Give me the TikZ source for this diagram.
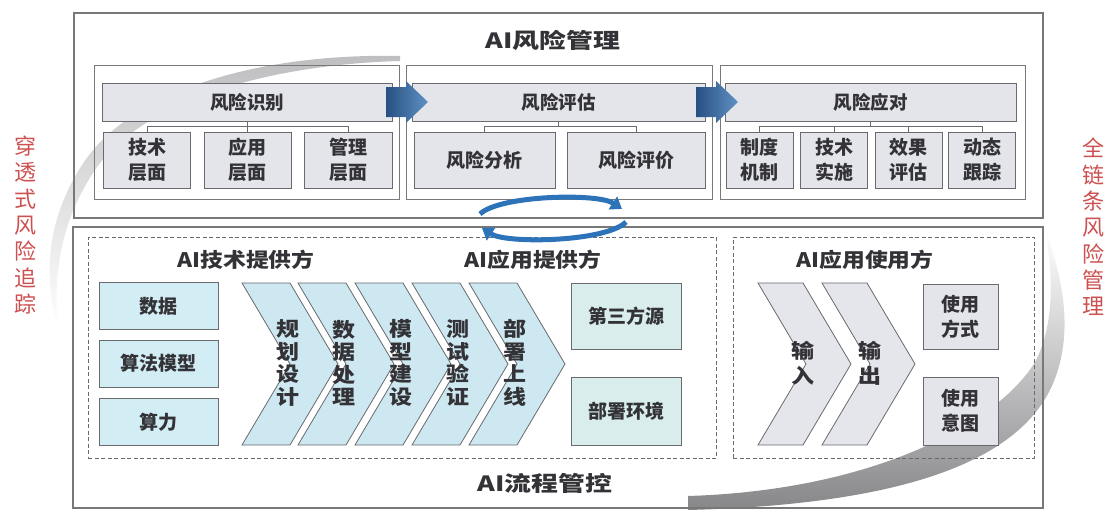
\documentclass[tikz,border=0pt]{standalone}
\usepackage{fontspec}
\setmainfont{Noto Sans CJK SC}
\newfontfamily\fA{Noto Sans CJK SC}[FakeStretch=1.28]
\newfontfamily\fB{Noto Sans CJK SC}[FakeStretch=1.14]
\newfontfamily\fC{Noto Sans CJK SC}[FakeStretch=1.15]
\usetikzlibrary{arrows.meta}
\definecolor{frame}{RGB}{120,120,120}
\definecolor{edge}{RGB}{105,105,110}
\definecolor{boxgray}{RGB}{228,229,235}
\definecolor{cyanfill}{RGB}{210,237,243}
\definecolor{chevfill}{RGB}{205,232,240}
\definecolor{chevgray}{RGB}{228,230,236}
\definecolor{mintfill}{RGB}{216,237,236}
\definecolor{ink}{RGB}{50,50,55}
\definecolor{sidered}{RGB}{205,80,80}
\definecolor{arrdark}{RGB}{40,80,130}
\definecolor{arrlight}{RGB}{95,145,195}
\definecolor{cycblue}{RGB}{45,115,185}
\definecolor{swooshd}{RGB}{135,135,138}
\definecolor{swooshl}{RGB}{190,190,192}
\tikzset{
 base/.style={inner sep=0pt, outer sep=0pt, line width=0.9pt, draw=edge},
 bigbox/.style={base, draw=frame, line width=1.3pt},
 secbox/.style={base, draw=frame, line width=1pt},
 dashbox/.style={base, draw=edge, dash pattern=on 4pt off 2.5pt, line width=0.9pt},
 hdr/.style={base, fill=boxgray, text=ink, font=\bfseries\fontsize{18.5}{22}\selectfont},
 leaf/.style={base, fill=boxgray, text=ink, align=center, font=\bfseries\fontsize{19}{25}\selectfont},
 cyanbox/.style={base, fill=cyanfill, text=ink, font=\bfseries\fontsize{19}{24}\selectfont},
 mintbox/.style={base, fill=mintfill, text=ink, font=\bfseries\fontsize{19}{24}\selectfont},
 maintitle/.style={inner sep=0pt, text=ink, font=\fA\bfseries\fontsize{21}{24}\selectfont},
 sectitle/.style={inner sep=0pt, text=ink, font=\fB\bfseries\fontsize{20}{24}\selectfont},
 vtext/.style={inner sep=0pt, text=ink, align=center, font=\fC\bfseries\fontsize{20}{22.5}\selectfont},
 vtextw/.style={inner sep=0pt, text=ink, align=center, font=\fC\bfseries\fontsize{20}{25}\selectfont},
 sidelabel/.style={inner sep=0pt, text=sidered, align=center, font=\fontsize{22}{26.3}\selectfont},
 conn/.style={draw=edge, line width=0.8pt},
 chev/.style={draw=edge, line width=0.8pt, fill=chevfill},
 chevg/.style={draw=edge, line width=0.8pt, fill=chevgray},
 cyc/.style={draw=cycblue, line width=5pt, -{Triangle[length=11pt,width=15pt]}},
}
\begin{document}
\begin{tikzpicture}[x=1pt,y=-1pt]
\useasboundingbox (0,0) rectangle (1109,512);
% grey swoosh
\shade[top color=white, middle color=swooshl, bottom color=swooshd]
  (688,510) .. controls (880,505) and (1010,470) .. (1050,390)
  .. controls (1072,345) and (1068,290) .. (1045,230)
  .. controls (1055,285) and (1052,330) .. (1035,362)
  .. controls (1000,420) and (880,490) .. (688,496) -- cycle;
\shade[top color=swooshl, middle color=swooshd, bottom color=white]
  (400,56) .. controls (260,53) and (130,90) .. (82,165)
  .. controls (48,218) and (42,272) .. (58,330)
  .. controls (53,275) and (60,222) .. (95,170)
  .. controls (140,104) and (260,65) .. (400,61) -- cycle;
% top block
\node[bigbox, minimum width=969pt, minimum height=205pt] (topbox) at (558.5,115.5) {};
\node[maintitle] (toptitle) at (553,40) {AI风险管理};
\node[secbox, minimum width=305pt, minimum height=134pt] (sec1) at (246.5,132) {};
\node[secbox, minimum width=306pt, minimum height=134pt] (sec2) at (559,132) {};
\node[secbox, minimum width=305pt, minimum height=134pt] (sec3) at (872.5,132) {};
\node[hdr, minimum width=290pt, minimum height=38pt] (h1) at (247,102) {风险识别};
\node[hdr, minimum width=293pt, minimum height=38pt] (h2) at (558.5,102) {风险评估};
\node[hdr, minimum width=291pt, minimum height=38pt] (h3) at (870.5,102) {风险应对};
\node[leaf, minimum width=87pt, minimum height=56pt] (t1) at (147,160) {技术\\层面};
\node[leaf, minimum width=87pt, minimum height=56pt] (t2) at (247.5,160) {应用\\层面};
\node[leaf, minimum width=88pt, minimum height=56pt] (t3) at (348.5,160) {管理\\层面};
\node[leaf, minimum width=141pt, minimum height=56pt] (e1) at (484.5,160) {风险分析};
\node[leaf, minimum width=138pt, minimum height=56pt] (e2) at (636,160) {风险评价};
\node[leaf, minimum width=67pt, minimum height=56pt] (r1) at (759.5,160) {制度\\机制};
\node[leaf, minimum width=67pt, minimum height=56pt] (r2) at (834,160) {技术\\实施};
\node[leaf, minimum width=67pt, minimum height=56pt] (r3) at (908.5,160) {效果\\评估};
\node[leaf, minimum width=67pt, minimum height=56pt] (r4) at (982,160) {动态\\跟踪};
\draw[conn] (h1.south) -- ++(0,5.5) coordinate (j1);
\draw[conn] (t1.north) |- (j1) -| (t3.north);
\draw[conn] (t2.north) -- (t2.north |- j1);
\draw[conn] (h2.south) -- ++(0,5.5) coordinate (j2);
\draw[conn] (e1.north) |- (j2) -| (e2.north);
\draw[conn] (h3.south) -- ++(0,5.5) coordinate (j3);
\draw[conn] (r1.north) |- (j3) -| (r4.north);
\draw[conn] (r2.north) -- (r2.north |- j3);
\draw[conn] (r3.north) -- (r3.north |- j3);
\shade[left color=arrdark, right color=arrlight] (386,87) -- (406,87) -- (406,81) -- (428,102) -- (406,123) -- (406,117) -- (386,117) -- cycle;
\shade[left color=arrdark, right color=arrlight] (696,87) -- (716,87) -- (716,81) -- (738,102) -- (716,123) -- (716,117) -- (696,117) -- cycle;
% bottom block
\node[bigbox, minimum width=970pt, minimum height=281pt] (botbox) at (558,367.5) {};
\node[dashbox, minimum width=628pt, minimum height=221pt] (dl) at (402,347.5) {};
\node[dashbox, minimum width=301pt, minimum height=221pt] (dr) at (883.5,347.5) {};
\node[sectitle] (tp) at (246,260) {AI技术提供方};
\node[sectitle] (ap) at (533,260) {AI应用提供方};
\node[sectitle] (au) at (865,260) {AI应用使用方};
\node[maintitle] (flow) at (545,483) {AI流程管控};
\node[cyanbox, minimum width=119pt, minimum height=47pt] (d1) at (158.5,306) {数据};
\node[cyanbox, minimum width=119pt, minimum height=47pt] (d2) at (158.5,363.5) {算法模型};
\node[cyanbox, minimum width=119pt, minimum height=47pt] (d3) at (158.5,422) {算力};
\draw[chev] (242,283) -- ++(48,0) -- ++(48,81) -- ++(-48,81) -- ++(-48,0) -- ++(48,-81) -- cycle;
\node[vtext] (c1) at (288,363) {规\\划\\设\\计};
\draw[chev] (298,283) -- ++(48,0) -- ++(48,81) -- ++(-48,81) -- ++(-48,0) -- ++(48,-81) -- cycle;
\node[vtext] (c2) at (344,363) {数\\据\\处\\理};
\draw[chev] (355,283) -- ++(48,0) -- ++(48,81) -- ++(-48,81) -- ++(-48,0) -- ++(48,-81) -- cycle;
\node[vtext] (c3) at (401,363) {模\\型\\建\\设};
\draw[chev] (412,283) -- ++(48,0) -- ++(48,81) -- ++(-48,81) -- ++(-48,0) -- ++(48,-81) -- cycle;
\node[vtext] (c4) at (458,363) {测\\试\\验\\证};
\draw[chev] (469,283) -- ++(48,0) -- ++(48,81) -- ++(-48,81) -- ++(-48,0) -- ++(48,-81) -- cycle;
\node[vtext] (c5) at (515,363) {部\\署\\上\\线};
\node[mintbox, minimum width=110pt, minimum height=66pt] (s1) at (626,316) {第三方源};
\node[mintbox, minimum width=110pt, minimum height=68pt] (s2) at (626,411.5) {部署环境};
\draw[chevg] (758,283) -- ++(45,0) -- ++(48,81) -- ++(-48,81) -- ++(-45,0) -- ++(48,-81) -- cycle;
\node[vtextw] (i1) at (803,363) {输\\入};
\draw[chevg] (822,283) -- ++(45,0) -- ++(48,81) -- ++(-48,81) -- ++(-45,0) -- ++(48,-81) -- cycle;
\node[vtextw] (i2) at (870,363) {输\\出};
\node[leaf, minimum width=75pt, minimum height=65pt] (u1) at (960.5,316.5) {使用\\方式};
\node[leaf, minimum width=75pt, minimum height=68pt] (u2) at (960.5,411) {使用\\意图};
% side labels
\node[sidelabel] (sl) at (25,225) {穿\\透\\式\\风\\险\\追\\踪};
\node[sidelabel] (sr) at (1093,227) {全\\链\\条\\风\\险\\管\\理};
% cycle arrows
\draw[cyc] (480,214) .. controls (500,195) and (598,193) .. (622,209);
\draw[cyc] (626,222) .. controls (606,242) and (506,244) .. (482,228);
\end{tikzpicture}
\end{document}
